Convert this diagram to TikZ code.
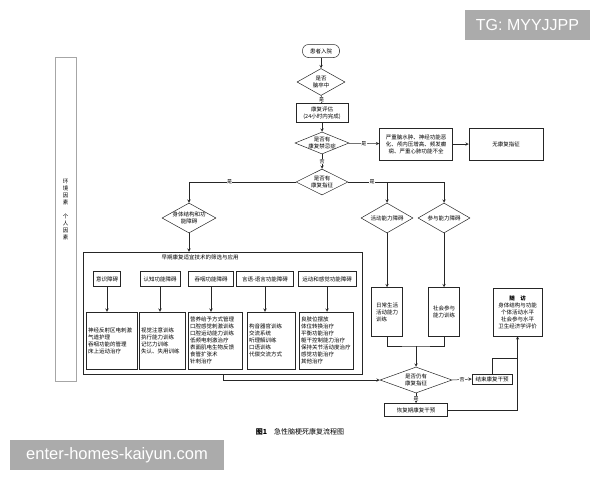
\documentclass[tikz,border=0pt]{standalone}
\usepackage{fontspec}
\newfontfamily\cjk{Noto Sans CJK SC}
\newfontfamily\wmfont{Liberation Sans}
\usetikzlibrary{shapes.geometric, arrows, shadows}

\begin{document}
\begin{tikzpicture}[
    x=1pt, y=-1pt,
    every node/.style={font=\cjk\fontsize{5.5}{7}\selectfont},
    box/.style={rectangle, draw=black!85, line width=0.5pt, fill=white, align=center, inner sep=1pt},
    shadowbox/.style={box, drop shadow={shadow xshift=0.9pt, shadow yshift=-0.9pt, fill=black!70}},
    listbox/.style={shadowbox, align=left, inner sep=2pt, minimum height=57},
    decision/.style={diamond, draw=black!85, line width=0.5pt, fill=white, align=center, inner sep=-2pt, aspect=2},
    arrow/.style={line width=0.5pt, draw=black!85, ->, >=stealth},
    line/.style={line width=0.5pt, draw=black!85},
    yn/.style={fill=white, inner sep=0.4pt, font=\cjk\fontsize{5}{6}\selectfont},
    tagbox/.style={fill=black!33, text=white, inner sep=0pt}
]
    \useasboundingbox (0,0) rectangle (600,480);

    % left factors
    \node (env) [rectangle, draw=black!35, line width=0.9pt, minimum width=21, minimum height=324] at (65.5,219) {};
    \node (envtext) [align=center] at (65.5,210) {环\\境\\因\\素\\[7pt]个\\人\\因\\素};

    % main column
    \node (admit) [box, rounded corners=6pt, minimum width=37, minimum height=13] at (321,51) {患者入院};
    \node (stroke) [decision, minimum width=48, minimum height=27] at (321,82) {是否\\脑卒中};
    \node (assess) [box, minimum width=52, minimum height=19] at (322,113) {康复评估\\(24小时内完成)};
    \node (contra) [decision, minimum width=54, minimum height=22] at (322,143) {是否有\\康复禁忌症};
    \node (severe) [box, minimum width=73, minimum height=32] at (416,144) {严重脑水肿、神经功能恶\\化、颅内压增高、频发癫\\痫、严重心肺功能不全};
    \node (none) [box, minimum width=74, minimum height=32] at (506,144) {无康复指征};
    \node (indic) [decision, minimum width=52, minimum height=26] at (322,182) {是否有\\康复指征};

    % branches
    \node (body) [decision, minimum width=54, minimum height=30] at (189,218) {身体结构和功\\能障碍};
    \node (act) [decision, minimum width=52, minimum height=30] at (387,218) {活动能力障碍};
    \node (part) [decision, minimum width=52, minimum height=30] at (444,218) {参与能力障碍};

    % early rehabilitation block
    \node (early) [shadowbox, minimum width=279, minimum height=122] at (222.5,313) {};
    \node (earlytitle) at (200,257) {早期康复适宜技术的筛选与应用};
    \node (h1) [shadowbox, minimum width=27, minimum height=15] at (107,279) {意识障碍};
    \node (h2) [shadowbox, minimum width=40, minimum height=15] at (160,279) {认知功能障碍};
    \node (h3) [shadowbox, minimum width=45, minimum height=15] at (211,279) {吞咽功能障碍};
    \node (h4) [shadowbox, minimum width=57, minimum height=15] at (265,279) {言语-语言功能障碍};
    \node (h5) [shadowbox, minimum width=58, minimum height=15] at (327,279) {运动和感觉功能障碍};
    \node (c1) [listbox, text width=47] at (111.5,340.5) {神经反射区电刺激\\气道护理\\吞咽功能的管理\\床上运动治疗};
    \node (c2) [listbox, text width=42] at (162,340.5) {视觉注意训练\\执行能力训练\\记忆力训练\\失认、失用训练};
    \node (c3) [listbox, text width=50] at (215,340.5) {营养给予方式管理\\口腔感觉刺激训练\\口腔运动能力训练\\低频电刺激治疗\\表面肌电生物反馈\\食管扩张术\\针刺治疗};
    \node (c4) [listbox, text width=44] at (271,340.5) {构音器官训练\\交流系统\\听理解训练\\口语训练\\代偿交流方式};
    \node (c5) [listbox, text width=50] at (326,340.5) {良肢位摆放\\体位转换治疗\\平衡功能治疗\\躯干控制能力治疗\\保持关节活动度治疗\\感觉功能治疗\\其他治疗};

    % right side
    \node (adl) [box, align=left, minimum width=31, minimum height=49] at (387,312) {日常生活\\活动能力\\训练};
    \node (soc) [box, minimum width=31, minimum height=49] at (444,312) {社会参与\\能力训练};
    \node (still) [decision, minimum width=72, minimum height=26] at (416,380) {是否仍有\\康复指征};
    \node (endi) [box, minimum width=40, minimum height=10] at (492,379) {结束康复干预};
    \node (recov) [box, minimum width=63, minimum height=13] at (416,410) {恢复期康复干预};
    \node (follow) [shadowbox, minimum width=49, minimum height=48] at (517.5,312) {{\bfseries 随　访}\\身体结构与功能\\个体活动水平\\社会参与水平\\卫生经济学评价};

    \coordinate (rbranch) at (444,182);
    \coordinate (merge) at (416,346);
    \coordinate (join) at (517.5,358);
    \coordinate (exit) at (223,374);

    % connectors
    \draw [arrow] (admit) -- (stroke);
    \draw [arrow] (stroke) -- node[yn] {是} (assess);
    \draw [arrow] (assess) -- (contra);
    \draw [arrow] (contra) -- node[yn] {是} (severe);
    \draw [arrow] (severe) -- (none);
    \draw [arrow] (contra) -- node[yn] {否} (indic);
    \draw [arrow] (indic.west) -| node[yn, pos=0.31] {是} (body.north);
    \draw [line] (indic.east) -- node[yn, pos=0.25] {是} (rbranch);
    \draw [arrow] (act.north |- rbranch) -- (act.north);
    \draw [arrow] (rbranch) -- (part.north);
    \draw [arrow] (body) -- (body |- early.north);
    \draw [arrow] (h1) -- (h1 |- c1.north);
    \draw [arrow] (h2) -- (h2 |- c2.north);
    \draw [arrow] (h3) -- (h3 |- c3.north);
    \draw [arrow] (h4) -- (h4 |- c4.north);
    \draw [arrow] (h5) -- (h5 |- c5.north);
    \draw [arrow] (act) -- (adl);
    \draw [arrow] (part) -- (soc);
    \draw [line] (adl.south) |- (merge) -| (soc.south);
    \draw [arrow] (merge) -- (still.north);
    \draw [arrow] (exit) |- (still.west);
    \draw [arrow] (still.east) -- node[yn] {否} (endi.west);
    \draw [arrow] (still.south) -- node[yn] {是} (recov.north);
    \draw [arrow] (recov.east) -| (follow.south);
    \draw [line] (endi.north) |- (join);

    % caption
    \node (caption) [font=\cjk\fontsize{7}{8}\selectfont] at (300,432) {{\bfseries 图1}\quad 急性脑梗死康复流程图};

    % tags
    \node (tagtop) [tagbox, minimum width=125, minimum height=30, font=\wmfont\fontsize{16}{18}\selectfont] at (527.5,25) {TG: MYYJJPP};
    \node (tagbottom) [tagbox, minimum width=214, minimum height=30, font=\wmfont\fontsize{16.5}{18}\selectfont] at (117,455) {enter-homes-kaiyun.com};
\end{tikzpicture}
\end{document}
